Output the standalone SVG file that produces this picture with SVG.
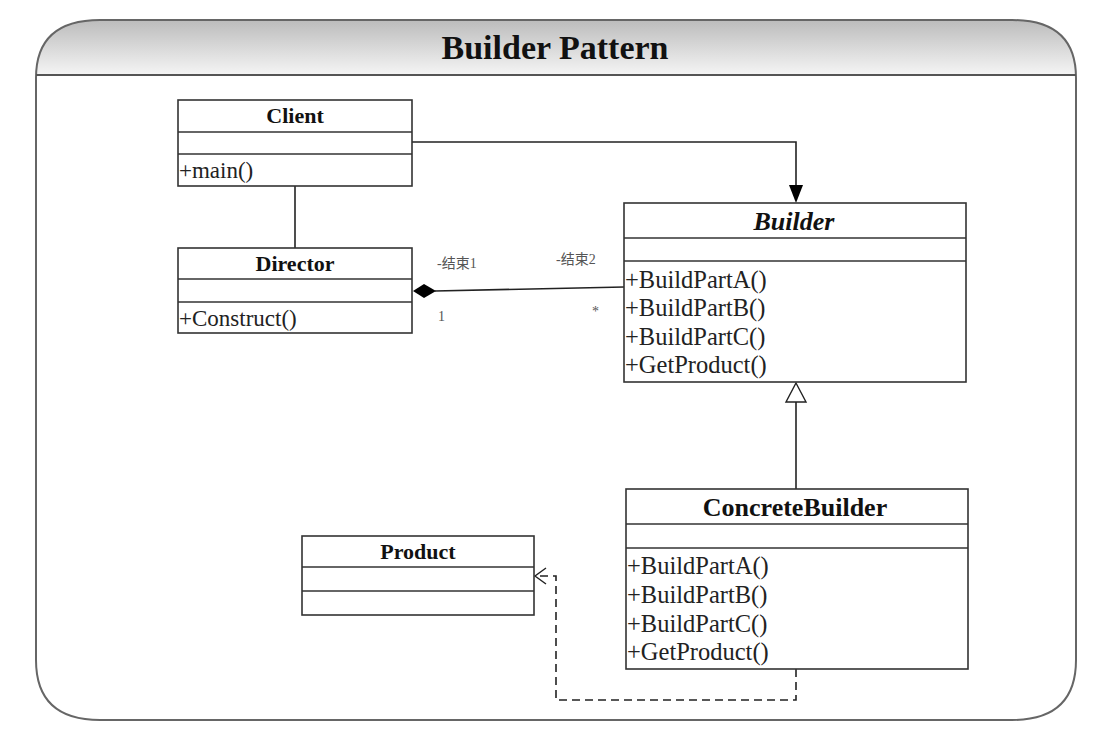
<svg xmlns="http://www.w3.org/2000/svg" width="1101" height="737" viewBox="0 0 1101 737">
<defs>
<linearGradient id="hdr" x1="0" y1="0" x2="0" y2="1">
<stop offset="0" stop-color="#bcbcbc"/>
<stop offset="1" stop-color="#f8f8f8"/>
</linearGradient>
</defs>
<style>
.box{fill:#fff;stroke:#333;stroke-width:1.6}
.sep{stroke:#333;stroke-width:1.6}
.ttl{font-family:"Liberation Serif","Times New Roman",serif;font-weight:bold;font-size:22px;fill:#111;text-anchor:middle}
.big{font-size:26px}
.m{font-family:"Liberation Serif","Times New Roman",serif;font-size:23px;fill:#222}
.mb{font-family:"Liberation Serif","Times New Roman",serif;font-size:24.5px;fill:#222}
.lbl{font-family:"Liberation Serif","Noto Sans CJK SC",serif;font-size:14px;fill:#555}
.ln{stroke:#222;stroke-width:1.6;fill:none}
</style>
<rect width="1101" height="737" fill="#fff"/>
<g id="frame">
<path d="M36,75 L36,78 Q36,20 100,20 L1012,20 Q1076,20 1076,78 L1076,75 Z" fill="url(#hdr)"/>
<path d="M100,20 L1012,20 Q1076,20 1076,78 L1076,660 Q1076,720 1012,720 L100,720 Q36,720 36,660 L36,78 Q36,20 100,20 Z" fill="none" stroke="#666" stroke-width="2"/>
<line x1="36" y1="75" x2="1076" y2="75" stroke="#555" stroke-width="2"/>
<text x="555" y="59" font-family="Liberation Serif, Times New Roman, serif" font-weight="bold" font-size="34" text-anchor="middle" fill="#111">Builder Pattern</text>
</g>
<g id="connectors">
<line class="ln" x1="295" y1="186" x2="295" y2="248"/>
<path class="ln" d="M412,142 L796,142 L796,188"/>
<path d="M789,185 L803,185 L796,203 Z" fill="#000"/>
<line class="ln" x1="435" y1="291" x2="624" y2="287"/>
<path d="M413,291 L424,284 L436,291 L424,298 Z" fill="#000"/>
<line class="ln" x1="796" y1="402" x2="796" y2="489"/>
<path d="M796,383 L806,402 L786,402 Z" fill="#fff" stroke="#222" stroke-width="1.4"/>
<path d="M796,669 L796,700 L556,700 L556,576 L536,576" fill="none" stroke="#222" stroke-width="1.6" stroke-dasharray="8,5"/>
<path d="M546,568 L535,576 L546,584" fill="none" stroke="#222" stroke-width="1.4"/>
<text class="lbl" x="437" y="268">-结束1</text>
<text class="lbl" x="556" y="264">-结束2</text>
<text class="lbl" x="438" y="321">1</text>
<text class="lbl" x="592" y="316">*</text>
</g>
<g id="Client">
<rect class="box" x="178" y="100" width="234" height="86"/>
<line class="sep" x1="178" y1="132" x2="412" y2="132"/>
<line class="sep" x1="178" y1="154" x2="412" y2="154"/>
<text class="ttl" x="295" y="123">Client</text>
<text class="m" x="179" y="178">+main()</text>
</g>
<g id="Director">
<rect class="box" x="178" y="248" width="234" height="85"/>
<line class="sep" x1="178" y1="279" x2="412" y2="279"/>
<line class="sep" x1="178" y1="302" x2="412" y2="302"/>
<text class="ttl" x="295" y="271">Director</text>
<text class="m" x="179" y="326">+Construct()</text>
</g>
<g id="Builder">
<rect class="box" x="624" y="203" width="342" height="179"/>
<line class="sep" x1="624" y1="238" x2="966" y2="238"/>
<line class="sep" x1="624" y1="261" x2="966" y2="261"/>
<text class="ttl big" x="794" y="230" font-style="italic">Builder</text>
<text class="mb" x="625" y="288">+BuildPartA()</text>
<text class="mb" x="625" y="316">+BuildPartB()</text>
<text class="mb" x="625" y="345">+BuildPartC()</text>
<text class="mb" x="625" y="373">+GetProduct()</text>
</g>
<g id="ConcreteBuilder">
<rect class="box" x="626" y="489" width="342" height="180"/>
<line class="sep" x1="626" y1="524" x2="968" y2="524"/>
<line class="sep" x1="626" y1="548" x2="968" y2="548"/>
<text class="ttl big" x="795" y="516">ConcreteBuilder</text>
<text class="mb" x="627" y="574">+BuildPartA()</text>
<text class="mb" x="627" y="603">+BuildPartB()</text>
<text class="mb" x="627" y="632">+BuildPartC()</text>
<text class="mb" x="627" y="660">+GetProduct()</text>
</g>
<g id="Product">
<rect class="box" x="302" y="536" width="232" height="79"/>
<line class="sep" x1="302" y1="567" x2="534" y2="567"/>
<line class="sep" x1="302" y1="591" x2="534" y2="591"/>
<text class="ttl" x="418" y="559">Product</text>
</g>
</svg>
